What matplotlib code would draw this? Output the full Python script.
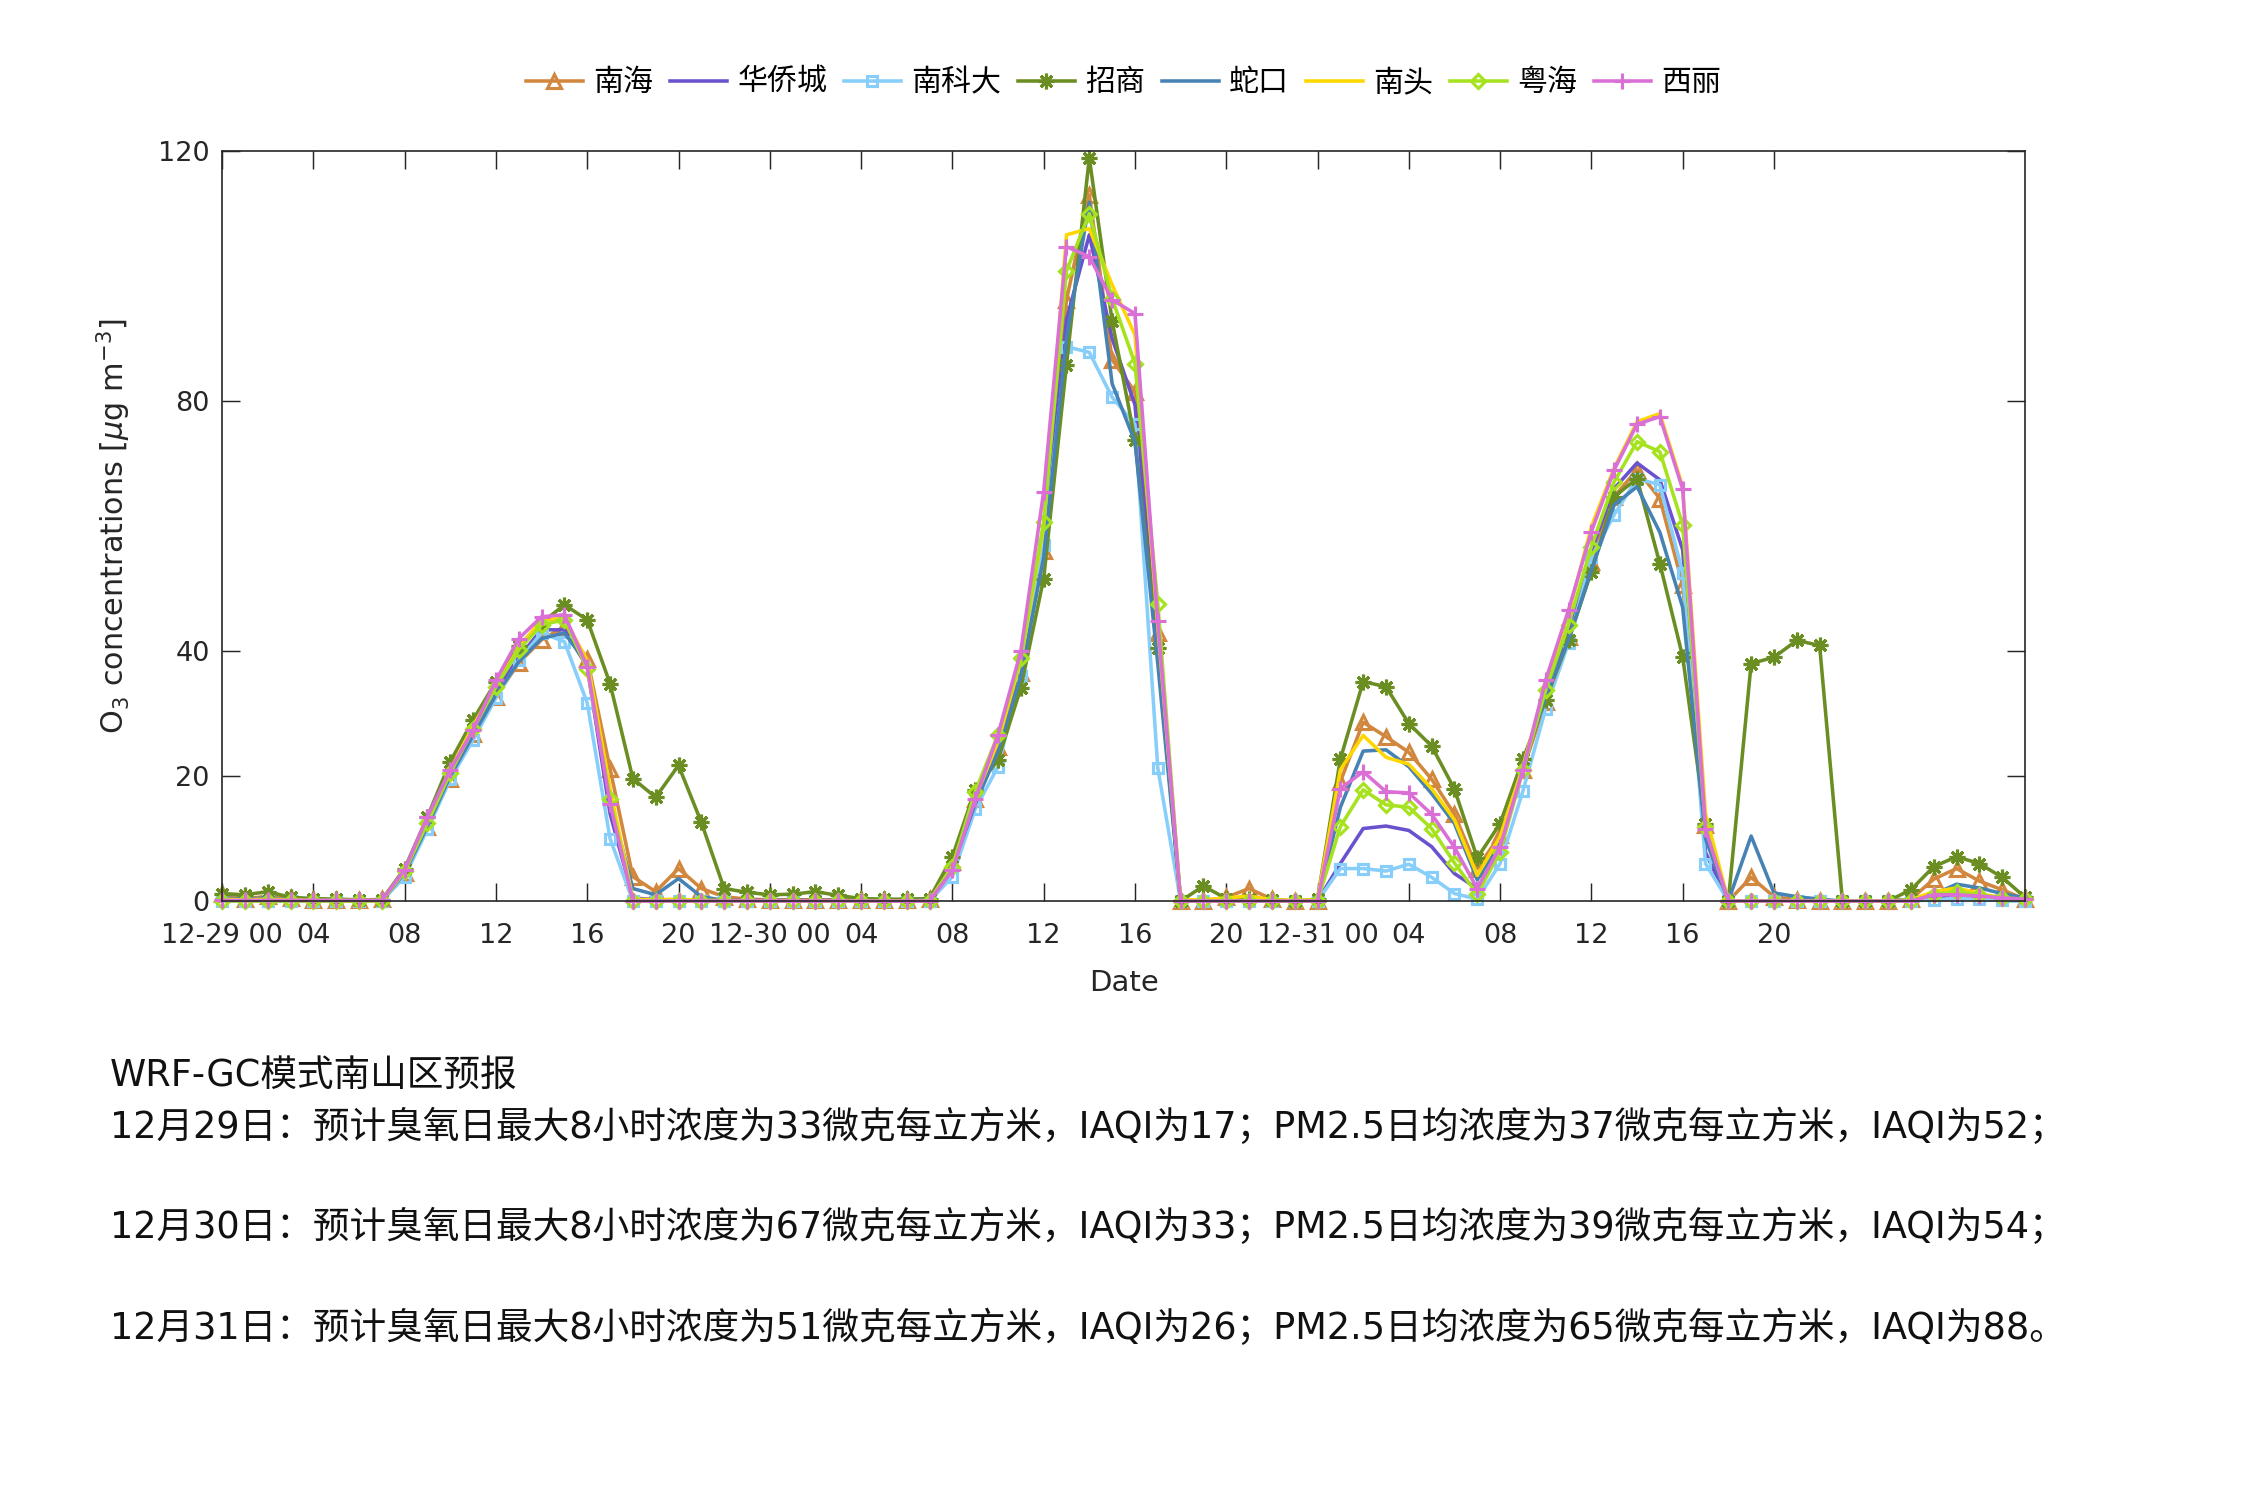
import matplotlib
matplotlib.use("Agg")
import matplotlib.pyplot as plt
import numpy as np

plt.rcParams['font.family'] = ['DejaVu Sans']

hours = list(range(80))

names = ["南海", "华侨城", "南科大", "招商", "蛇口", "南头", "粤海", "西丽"]

nanhai = [1.2, 0.3, 0.8, 0.5, 0.2, 0.1, 0.1, 0.3,
          4.5, 11.9, 19.6, 26.8, 32.7, 38.1, 41.8, 43.9, 38.8, 21.2,
          3.9, 1.5, 5.2, 2.0, 0.7, 0.3, 0.2, 0.2, 0.2, 0.2,
          0.2, 0.2, 0.2, 0.3, 6.3, 16.3, 24.6, 36.5, 56.0, 96.2,
          113.0, 86.6, 81.5, 42.9, 0.0, 0.0, 0.6, 2.0, 0.3, 0.0,
          0.0, 19.1, 28.6, 26.3, 23.8, 19.5, 13.9, 5.2, 10.6, 21.0,
          31.9, 42.3, 54.3, 64.7, 69.0, 64.4, 50.6, 12.1, 0.0, 3.8,
          0.7, 0.2, 0.0, 0.0, 0.0, 0.0, 0.3, 3.5, 5.2, 3.2, 1.8, 0.3]

huaqiaocheng = [0.3, 0.3, 0.3, 0.2, 0.2, 0.2, 0.2, 0.2,
                4.5, 12.5, 20.5, 27.0, 33.5, 39.0, 43.4, 43.4, 37.5, 14.0,
                0.5, 0.2, 0.2, 0.2, 0.1, 0.1, 0.1, 0.1, 0.1, 0.1,
                0.1, 0.1, 0.1, 0.2, 5.0, 16.0, 24.5, 37.0, 57.0, 93.0,
                106.6, 90.0, 79.4, 40.0, 0.0, 0.0, 0.0, 0.1, 0.0, 0.0,
                0.0, 6.0, 11.6, 12.0, 11.3, 8.7, 4.4, 2.0, 8.4, 21.2,
                33.2, 43.4, 56.0, 66.0, 70.1, 67.4, 56.2, 7.8, 0.0, 0.0,
                0.0, 0.0, 0.0, 0.0, 0.0, 0.0, 0.2, 0.6, 1.0, 0.6, 0.3, 0.1]

nankeda = [0.0, 0.0, 0.0, 0.0, 0.0, 0.0, 0.0, 0.0,
           3.9, 11.5, 19.5, 25.8, 32.5, 38.5, 42.9, 41.5, 31.7, 10.0,
           0.0, 0.0, 0.0, 0.0, 0.0, 0.0, 0.0, 0.0, 0.0, 0.0,
           0.0, 0.0, 0.0, 0.0, 3.9, 14.7, 21.5, 36.0, 57.0, 88.7,
           87.8, 80.6, 76.3, 21.3, 0.0, 0.0, 0.0, 0.0, 0.0, 0.0,
           0.0, 5.2, 5.2, 4.8, 5.9, 3.8, 1.2, 0.3, 6.0, 17.6,
           30.8, 41.3, 55.0, 61.8, 67.6, 66.6, 52.5, 6.0, 0.0, 0.0,
           0.0, 0.0, 0.0, 0.0, 0.0, 0.0, 0.0, 0.2, 0.4, 0.3, 0.1, 0.0]

zhaoshang = [1.2, 1.0, 1.5, 0.6, 0.4, 0.3, 0.2, 0.2,
             5.2, 13.5, 22.3, 29.0, 35.1, 40.8, 44.5, 47.4, 45.0, 34.8,
             19.6, 16.6, 21.7, 12.6, 2.0, 1.4, 1.0, 1.1, 1.5, 0.9,
             0.4, 0.3, 0.3, 0.4, 7.1, 17.8, 22.6, 34.1, 51.6, 85.8,
             118.9, 92.8, 73.8, 40.5, 0.0, 2.4, 0.4, 0.3, 0.2, 0.0,
             0.3, 22.7, 35.1, 34.3, 28.4, 24.8, 17.9, 6.9, 12.4, 22.7,
             32.2, 41.8, 52.7, 64.7, 67.6, 54.0, 39.1, 12.4, 0.0, 38.0,
             39.0, 41.7, 40.9, 0.0, 0.0, 0.0, 1.8, 5.5, 7.1, 6.0, 3.8, 0.6]

shekou = [0.5, 0.3, 0.5, 0.2, 0.2, 0.1, 0.1, 0.1,
          4.5, 12.0, 20.0, 26.5, 33.0, 38.3, 42.0, 42.9, 38.0, 16.0,
          2.0, 1.0, 3.6, 0.7, 0.1, 0.0, 0.0, 0.0, 0.0, 0.0,
          0.0, 0.0, 0.0, 0.2, 5.5, 15.5, 24.0, 36.0, 55.0, 90.0,
          111.8, 82.8, 73.5, 38.0, 0.0, 0.0, 0.0, 0.1, 0.0, 0.0,
          0.0, 15.0, 24.0, 24.2, 21.5, 17.2, 12.4, 3.4, 9.2, 21.8,
          32.7, 41.8, 53.0, 63.4, 66.3, 59.0, 47.0, 10.0, 0.0, 10.4,
          1.3, 0.7, 0.3, 0.0, 0.0, 0.0, 0.3, 1.1, 2.7, 2.1, 1.2, 0.5]

nantou = [0.3, 0.2, 0.3, 0.2, 0.1, 0.1, 0.1, 0.1,
          4.8, 13.0, 21.0, 28.0, 34.5, 40.5, 45.0, 45.2, 38.5, 18.0,
          0.3, 0.2, 0.3, 0.1, 0.1, 0.0, 0.0, 0.0, 0.0, 0.0,
          0.0, 0.0, 0.0, 0.1, 5.5, 16.5, 25.5, 38.5, 60.0, 106.6,
          107.6, 98.6, 90.6, 44.0, 0.2, 0.2, 0.5, 0.8, 0.2, 0.1,
          0.2, 21.0, 26.5, 23.0, 21.9, 18.0, 13.0, 4.1, 10.3, 21.5,
          34.8, 46.0, 59.9, 69.3, 76.7, 78.0, 66.3, 14.0, 0.0, 0.0,
          0.0, 0.0, 0.0, 0.0, 0.0, 0.0, 0.2, 1.5, 2.1, 1.2, 0.5, 0.2]

yuehai = [0.0, 0.0, 0.0, 0.0, 0.0, 0.0, 0.0, 0.0,
          4.8, 12.5, 20.5, 27.5, 34.3, 40.2, 44.2, 45.0, 37.2, 16.4,
          0.0, 0.0, 0.0, 0.0, 0.0, 0.0, 0.0, 0.0, 0.0, 0.0,
          0.0, 0.0, 0.0, 0.0, 5.5, 17.5, 26.6, 38.9, 60.7, 100.8,
          110.0, 96.4, 86.0, 47.6, 0.0, 0.0, 0.0, 0.0, 0.0, 0.0,
          0.0, 11.9, 17.8, 15.4, 15.0, 11.6, 6.1, 1.1, 7.9, 20.9,
          33.8, 44.2, 56.7, 67.1, 73.5, 71.9, 60.2, 11.8, 0.0, 0.0,
          0.0, 0.0, 0.0, 0.0, 0.0, 0.0, 0.0, 1.0, 1.5, 1.0, 0.5, 0.3]

xili = [0.1, 0.1, 0.1, 0.1, 0.1, 0.1, 0.1, 0.1,
        5.0, 13.5, 21.0, 27.4, 35.3, 42.0, 45.5, 45.8, 37.5, 15.6,
        0.0, 0.0, 0.0, 0.0, 0.0, 0.0, 0.0, 0.0, 0.0, 0.0,
        0.0, 0.0, 0.0, 0.0, 4.9, 16.3, 26.6, 40.0, 65.5, 104.7,
        103.1, 96.2, 94.0, 44.8, 0.0, 0.0, 0.0, 0.0, 0.0, 0.0,
        0.0, 18.0, 20.7, 17.5, 17.3, 13.9, 8.6, 2.0, 8.7, 21.0,
        35.4, 46.6, 59.1, 69.0, 76.3, 77.5, 65.9, 11.5, 0.0, 0.0,
        0.0, 0.0, 0.0, 0.0, 0.0, 0.0, 0.0, 1.0, 1.0, 0.8, 0.5, 0.3]

xtick_pos = [0, 4, 8, 12, 16, 20, 24, 28, 32, 36, 40, 44, 48, 52, 56, 60, 64, 68]
xtick_labels = ["12-29 00", "04", "08", "12", "16", "20",
                "12-30 00", "04", "08", "12", "16", "20",
                "12-31 00", "04", "08", "12", "16", "20"]
ytick_pos = [0, 20, 40, 80, 120]

text_lines = [
    "WRF-GC模式南山区预报",
    "12月29日：预计臭氧日最大8小时浓度为33微克每立方米，IAQI为17；PM2.5日均浓度为37微克每立方米，IAQI为52；",
    "12月30日：预计臭氧日最大8小时浓度为67微克每立方米，IAQI为33；PM2.5日均浓度为39微克每立方米，IAQI为54；",
    "12月31日：预计臭氧日最大8小时浓度为51微克每立方米，IAQI为26；PM2.5日均浓度为65微克每立方米，IAQI为88。",
]

series = [nanhai, huaqiaocheng, nankeda, zhaoshang, shekou, nantou, yuehai, xili]
colors = ["#D2873F", "#6A52CF", "#87CEFA", "#6B8E23", "#4682B4", "#FFD700", "#A6E21E", "#DA70D6"]
markers = ["^", None, "s", (8, 2, 0), None, None, "D", "+"]
msizes = [6.5, 0, 5, 7.5, 0, 0, 5, 8]

fig = plt.figure(figsize=(15, 10), dpi=150)
ax = fig.add_axes([0.0987, 0.3993, 0.8013, 0.5])

handles = []
for name, vals, c, m, ms in zip(names, series, colors, markers, msizes):
    kw = dict(color=c, lw=1.7, label=name, clip_on=False)
    if m is not None:
        kw.update(marker=m, markersize=ms, markeredgewidth=1.5,
                  markerfacecolor='none' if m in ("^", "s", "D") else c,
                  markeredgecolor=c)
    h, = ax.plot(hours, vals, **kw)
    handles.append(h)

ax.set_xlim(0, 79)
ax.set_ylim(0, 120)
ax.set_xticks(xtick_pos)
ax.set_xticklabels(xtick_labels)
ax.set_yticks(ytick_pos)
ax.tick_params(direction='in', length=8.6, width=0.7, top=True, right=True,
               labelsize=13, colors='#262626')
ax.tick_params(axis='x', pad=10.5)
ax.tick_params(axis='y', pad=6)
for s in ax.spines.values():
    s.set_linewidth(0.8)
    s.set_color('#262626')

ax.set_xlabel("Date", fontsize=14, color='#262626', labelpad=9.5)
ax.set_ylabel(r"O$_3$ concentrations [$\mu$g m$^{-3}$]", fontsize=14.5, color='#262626', labelpad=12)

fig.legend(handles=handles, labels=names, loc='center', bbox_to_anchor=(0.4993, 0.945),
           ncol=8, frameon=False, prop={'family': ['Noto Sans CJK SC'], 'size': 14.4},
           handlelength=1.9, handletextpad=0.35, columnspacing=0.55)

ys = [0.2830, 0.2487, 0.1820, 0.1147]
for t, y in zip(text_lines, ys):
    fig.text(0.049, y, t, fontsize=17.6, family=['DejaVu Sans', 'Noto Sans CJK SC'],
             va='center', ha='left', color='#111111')

fig.savefig("out.png", dpi=150)
